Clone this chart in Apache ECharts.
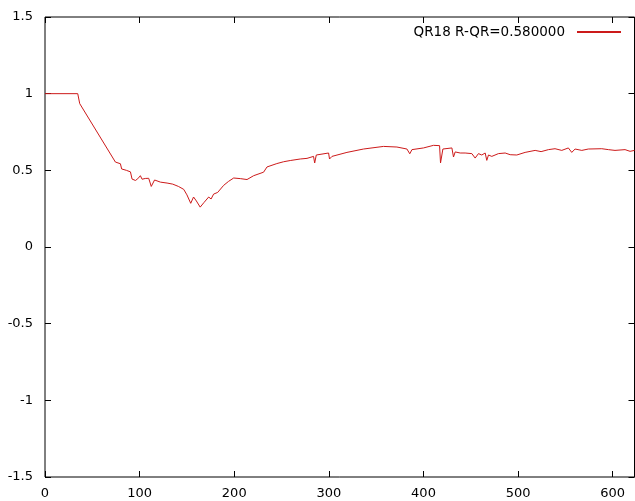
<!DOCTYPE html>
<html>
<head>
<meta charset="utf-8">
<script src="https://cdn.jsdelivr.net/npm/echarts@6/dist/echarts.min.js"></script>
<style>
html,body{margin:0;padding:0;background:#fff;}
#c{width:635px;height:501px;}
</style>
</head>
<body>
<div id="c"></div>
<script>
const seriesName = 'QR18 R-QR=0.580000';
const xValues = [0,34.6,36.7,74.4,79.7,81,86,90.3,92,95.6,98,100.8,102.6,106,109.6,112.3,115.8,122,129,135,141,146.6,150,154,157,160,164,168,173,175.5,178.2,182.5,188.8,194,199.4,206.4,213.5,220.5,231,234.6,245,247,252.2,259.2,269.8,276.9,283.8,285,286.7,299.7,300.7,303.3,319.1,336.6,357.8,371.9,382.5,385.5,387.8,400,410.6,417,418,420.5,430,431.7,433.5,438.8,444,451.1,454.6,458.1,461.6,465.2,466.9,468.7,472.2,479.2,486.3,491.6,498.6,507.4,518,524.3,532,539,546.1,553.1,556.7,560.2,567.3,574.2,588.4,595.4,602.4,613,618.3,623];
const yValues = [1.0,1.0,0.935,0.554,0.543,0.509,0.500,0.490,0.443,0.434,0.445,0.465,0.442,0.447,0.448,0.395,0.437,0.423,0.417,0.410,0.395,0.376,0.34,0.285,0.326,0.300,0.260,0.29,0.326,0.313,0.345,0.356,0.402,0.428,0.450,0.446,0.440,0.465,0.488,0.522,0.544,0.538,0.556,0.564,0.574,0.578,0.591,0.548,0.600,0.613,0.574,0.591,0.617,0.639,0.656,0.652,0.639,0.608,0.635,0.646,0.663,0.661,0.548,0.639,0.646,0.587,0.620,0.613,0.613,0.609,0.580,0.609,0.600,0.613,0.565,0.600,0.591,0.609,0.613,0.602,0.600,0.617,0.630,0.622,0.635,0.641,0.630,0.646,0.617,0.639,0.630,0.639,0.641,0.635,0.630,0.635,0.624,0.630];
const xMin = 0, xMax = 623, xStep = 100;
const yMin = -1.5, yMax = 1.5, yStep = 0.5;

const data = xValues.map((x, i) => [x, yValues[i]]);
const font = 'DejaVu Sans';
const lineColor = '#cc1a1a';
const L = 45, R = 0.5, T = 17, B = 24, TICK = 6;
const tickSplit = {show: true, lineStyle: {color: '#000', width: 1}};
const hidden = {show: false};

// grid 0: main plot with its black frame; grids 1-4: thin strips whose split lines form the inward tick marks
const grids = [
  {left: L, right: R, top: T, bottom: B, show: true, borderColor: '#000', borderWidth: 1, backgroundColor: 'transparent'},
  {left: L, right: R, top: 501 - B - TICK, height: TICK},
  {left: L, right: R, top: T, height: TICK},
  {left: L, width: TICK, top: T, bottom: B},
  {right: R, width: TICK, top: T, bottom: B}
];

const xScale = {type: 'value', min: xMin, max: xMax, interval: xStep};
const yScale = {type: 'value', min: yMin, max: yMax, interval: yStep};
const stripScale = {type: 'value', min: 1, max: 2, show: false};
const bare = {axisLine: {show: false}, axisTick: hidden, axisLabel: hidden};

const xAxes = [
  Object.assign({}, xScale, bare, {gridIndex: 0, position: 'bottom', splitLine: hidden,
    axisLabel: {fontFamily: font, fontSize: 13, color: '#000', margin: 10, showMaxLabel: false}}),
  Object.assign({}, xScale, bare, {gridIndex: 1, splitLine: tickSplit}),
  Object.assign({}, xScale, bare, {gridIndex: 2, splitLine: tickSplit}),
  Object.assign({}, stripScale, {gridIndex: 3}),
  Object.assign({}, stripScale, {gridIndex: 4})
];
const yAxes = [
  Object.assign({}, yScale, bare, {gridIndex: 0, position: 'left', splitLine: hidden,
    axisLabel: {fontFamily: font, fontSize: 13, color: '#000', margin: 12}}),
  Object.assign({}, stripScale, {gridIndex: 1}),
  Object.assign({}, stripScale, {gridIndex: 2}),
  Object.assign({}, yScale, bare, {gridIndex: 3, splitLine: tickSplit}),
  Object.assign({}, yScale, bare, {gridIndex: 4, splitLine: tickSplit})
];

const chart = echarts.init(document.getElementById('c'), null, {renderer: 'canvas'});
chart.setOption({
  animation: false,
  backgroundColor: '#fff',
  grid: grids,
  legend: {
    right: 9, top: 20, align: 'right', itemWidth: 44, itemHeight: 2, icon: 'rect',
    textStyle: {fontFamily: font, fontSize: 13.5, color: '#000', padding: [0, 7, 0, 0]},
    data: [{name: seriesName, itemStyle: {color: lineColor}}]
  },
  xAxis: xAxes,
  yAxis: yAxes,
  series: [{
    name: seriesName, type: 'line', xAxisIndex: 0, yAxisIndex: 0, data: data, showSymbol: false, symbol: 'none',
    lineStyle: {color: lineColor, width: 1}, itemStyle: {color: lineColor}
  }]
});
</script>
</body>
</html>
